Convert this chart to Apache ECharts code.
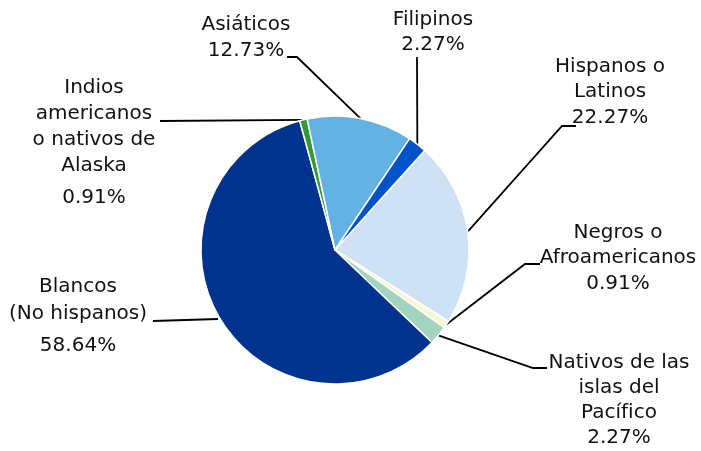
<!DOCTYPE html>
<html lang="es">
<head>
  <meta charset="UTF-8">
  <title>Distribución por origen</title>
  <style>
    * { margin: 0; padding: 0; }
    body { background: #fff; }
    #chart { width: 701px; height: 451px; }
  </style>
  <script src="https://cdn.jsdelivr.net/npm/echarts@6/dist/echarts.min.js"></script>
</head>
<body>
  <div id="chart"></div>
  <script>
    // datos (orden de las porciones, en sentido horario)
    const names = [
      'Hispanos o\nLatinos',
      'Negros o\nAfroamericanos',
      'Nativos de las\nislas del\nPacífico',
      'Blancos\n(No hispanos)',
      'Indios\namericanos\no nativos de\nAlaska',
      'Asiáticos',
      'Filipinos'
    ];
    const values = [22.27, 0.91, 2.27, 58.64, 0.91, 12.73, 2.27];
    const colors = ['#cfe2f5', '#f7f7d4', '#a3d4bf', '#00338d', '#339933', '#64b1e3', '#0052c9'];

    // posición de cada etiqueta: centro x, borde superior, altura de línea, separación del %
    const labelPos = [
      { x: 610, top: 54,  lh: 25.5, gap: 25.5, elbow: [562, 126], end: [576, 126] },
      { x: 618, top: 220, lh: 25.5, gap: 25.5, elbow: [525, 264], end: [540, 264] },
      { x: 619, top: 350, lh: 25,   gap: 25,   elbow: [533, 368], end: [547, 368] },
      { x: 78,  top: 273, lh: 27,   gap: 37,   elbow: [153, 321], end: [153, 321], start: [218, 319] },
      { x: 94,  top: 75,  lh: 26,   gap: 38,   elbow: [160, 121], end: [160, 121] },
      { x: 246, top: 12,  lh: 26,   gap: 26,   elbow: [297, 57],  end: [287, 57] },
      { x: 433, top: 7,   lh: 25,   gap: 25,   elbow: [417, 57],  end: [417, 57] }
    ];

    const chart = echarts.init(document.getElementById('chart'));

    const data = names.map((n, i) => {
      const p = labelPos[i];
      return {
        name: n,
        value: values[i],
        itemStyle: { color: colors[i] },
        label: {
          rich: {
            n: { lineHeight: p.lh, fontSize: 20, color: '#111', fontFamily: 'DejaVu Sans', align: 'center' },
            p: { lineHeight: p.gap, fontSize: 20, color: '#111', fontFamily: 'DejaVu Sans', align: 'center' }
          }
        }
      };
    });

    chart.setOption({
      animation: false,
      series: [{
        type: 'pie',
        center: [335, 250],
        radius: 134,
        startAngle: 48,
        clockwise: true,
        avoidLabelOverlap: false,
        data: data,
        itemStyle: { borderColor: '#fff', borderWidth: 1.5 },
        label: {
          show: true,
          position: 'outside',
          formatter: p => '{n|' + p.name + '}\n{p|' + p.value.toFixed(2) + '%}'
        },
        labelLine: {
          show: true,
          length: 10,
          length2: 10,
          lineStyle: { color: '#000', width: 1.8 }
        },
        labelLayout: params => {
          const p = labelPos[params.dataIndex];
          const pts = params.labelLinePoints;
          const start = p.start || pts[0];
          return {
            x: p.x,
            y: p.top,
            align: 'center',
            verticalAlign: 'top',
            labelLinePoints: [start, p.elbow, p.end]
          };
        },
        emphasis: { disabled: true }
      }]
    });
  </script>
</body>
</html>
